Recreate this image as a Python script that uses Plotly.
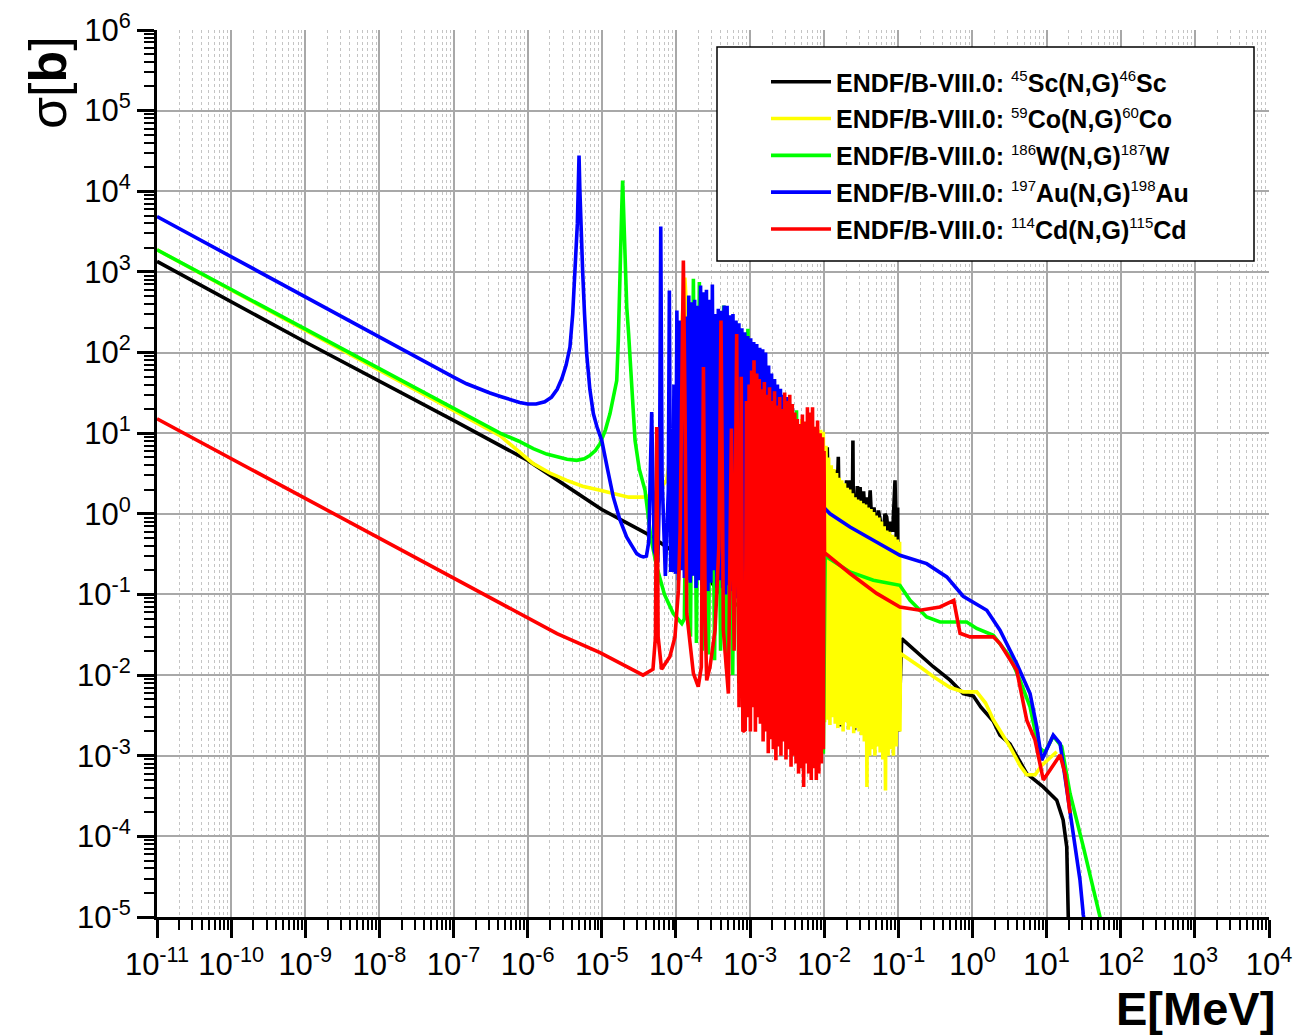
import plotly.graph_objects as go

# ---------------- data (E in MeV, sigma in barn) ----------------
# 45Sc(n,g)46Sc  (black)
sc_E = [1e-11, 1e-9, 1e-7, 4.24e-7, 1e-6, 1e-5, 4.04e-5, 1.02e-4, 2.0e-4, 4.4e-4, 1.0e-3, 2.0e-3,
        3.0e-3, 3.3e-3, 3.6e-3, 6.0e-3, 8.0e-3, 9.0e-3,
        1.05e-2, 1.1e-2, 1.16e-2, 1.25e-2, 1.33e-2, 1.39e-2, 1.46e-2, 1.55e-2, 1.6e-2, 1.63e-2,
        1.7e-2, 1.8e-2, 1.9e-2, 2.0e-2, 2.12e-2, 2.24e-2, 2.35e-2, 2.44e-2, 2.5e-2, 2.57e-2,
        2.65e-2, 2.8e-2, 2.95e-2, 3.05e-2, 3.2e-2, 3.4e-2, 3.6e-2, 3.8e-2, 4.0e-2, 4.17e-2,
        4.4e-2, 4.7e-2, 5.0e-2, 5.4e-2, 5.8e-2, 6.2e-2, 6.6e-2, 6.97e-2, 7.4e-2, 7.9e-2,
        8.4e-2, 9.02e-2, 9.4e-2, 9.8e-2, 0.101,
        0.111, 0.296, 0.498, 0.75, 1.03, 1.3, 1.9, 2.35, 3.2, 5.4, 9.0, 13.7, 16.7, 18.7, 19.6, 20.0]
sc_S = [1350, 135, 14.4, 7.1, 4.6, 1.13, 0.569, 0.321, 0.22, 0.093, 0.06, 0.045,
        0.04, 5.0, 0.03, 0.03, 1.0, 0.05,
        0.5, 6.7, 0.6, 2.0, 0.4, 3.46, 0.8, 5.1, 0.68, 2.3e-3,
        0.9, 2.2, 0.6, 2.6, 0.9, 2.6, 0.12, 8.1, 6.5e-3, 2.07e-3,
        1.0, 2.2, 1.2, 2.15, 1.0, 1.9, 0.8, 1.6, 1.0, 1.95,
        0.7, 1.2, 0.6, 1.1, 0.75, 0.5, 1.0, 0.91, 0.5, 0.8,
        0.6, 2.6, 0.5, 1.2, 2.0e-3,
        0.0284, 0.0127, 8.65e-3, 5.9e-3, 5.5e-3, 4.0e-3, 2.7e-3, 1.8e-3, 1.4e-3, 6.0e-4, 4.1e-4,
        2.8e-4, 1.6e-4, 7.4e-5, 1.0e-5, 1.0e-7]

# 59Co(n,g)60Co  (yellow)
co_E = [1e-11, 1e-9, 1e-7, 4.24e-7, 1.19e-6, 2.0e-6, 3.37e-6, 5.5e-6, 9.5e-6, 1.5e-5, 2.3e-5,
        3.6e-5, 4.7e-5, 6.0e-5, 7.5e-5, 9.2e-5, 1.1e-4, 1.25e-4, 1.32e-4, 1.4e-4, 1.55e-4,
        1.8e-4, 2.3e-4, 3.37e-4, 5.0e-4, 8.0e-4, 1.2e-3, 1.5e-3, 1.7e-3, 2.5e-3, 2.9e-3, 3.2e-3,
        4.3e-3, 5.0e-3, 5.5e-3, 7.0e-3, 7.55e-3, 8.1e-3,
        8.6e-3, 8.96e-3, 9.34e-3, 9.73e-3, 1.014e-2, 1.057e-2, 1.1e-2, 1.147e-2, 1.195e-2, 1.245e-2,
        1.297e-2, 1.352e-2, 1.408e-2, 1.468e-2, 1.529e-2, 1.594e-2, 1.66e-2, 1.73e-2, 1.8e-2, 1.88e-2,
        1.96e-2, 2.04e-2, 2.12e-2, 2.21e-2, 2.3e-2, 2.4e-2, 2.5e-2, 2.61e-2, 2.72e-2, 2.83e-2,
        2.95e-2, 3.07e-2, 3.2e-2, 3.34e-2, 3.48e-2, 3.62e-2, 3.77e-2, 3.93e-2, 4.1e-2, 4.27e-2,
        4.45e-2, 4.63e-2, 4.83e-2, 5.03e-2, 5.24e-2, 5.46e-2, 5.69e-2, 5.93e-2, 6.18e-2, 6.44e-2,
        6.71e-2, 6.99e-2, 7.28e-2, 7.59e-2, 7.91e-2, 8.24e-2, 8.59e-2, 8.95e-2, 9.33e-2, 9.72e-2,
        0.1013, 0.104,
        0.105, 0.107, 0.2, 0.3, 0.5, 0.75, 1.14, 1.5, 1.91, 3.2, 4.4, 5.4, 7.0, 8.6, 13.7]
co_S = [1880, 190, 19.5, 9.3, 4.19, 3.2, 2.6, 2.2, 1.96, 1.75, 1.61,
        1.61, 1.7, 2.0, 2.6, 10, 60, 400, 850, 300, 20,
        2.0, 0.5, 0.2, 0.12, 0.08, 0.07, 3.0, 0.06, 0.05, 8.0, 0.05,
        0.04, 15, 0.04, 0.02, 12, 0.01,
        2.0e-3, 11, 1.5e-3, 10.4, 2.6e-3, 7, 2.8e-3, 5, 2.4e-3, 4,
        3.0e-3, 3.6, 2.5e-3, 3.2, 2.2e-3, 2.8, 2.4e-3, 2.6, 2.0e-3, 2.4,
        2.6e-3, 2.1, 2.1e-3, 2.0, 2.3e-3, 1.8, 1.9e-3, 1.6, 2.2e-3, 1.5,
        2.0e-3, 1.45, 1.8e-3, 1.35, 1.5e-3, 1.3, 4.1e-4, 1.2, 1.0e-3, 1.15,
        1.2e-3, 1.05, 1.0e-3, 0.95, 1.3e-3, 0.9, 1.1e-3, 0.8, 9.0e-4, 0.7,
        3.7e-4, 0.62, 1.0e-3, 0.6, 1.2e-3, 0.55, 1.0e-3, 0.52, 1.3e-3, 0.48,
        2.0e-3, 0.45,
        2.0e-3, 0.0185, 0.0125, 9.5e-3, 7.0e-3, 6.2e-3, 6.2e-3, 4.5e-3, 2.8e-3, 1.3e-3, 7.5e-4,
        5.8e-4, 5.8e-4, 7.6e-4, 1.12e-3]

# 186W(n,g)187W  (green)
w_E = [1e-11, 1e-9, 1e-7, 4.24e-7, 7.5e-7, 1.19e-6, 1.8e-6, 2.47e-6, 3.4e-6, 4.59e-6, 5.8e-6,
       6.93e-6, 8.2e-6, 9.46e-6, 1.12e-5, 1.29e-5, 1.45e-5, 1.59e-5, 1.67e-5, 1.76e-5, 1.86e-5,
       1.91e-5, 1.96e-5, 2.03e-5, 2.1e-5, 2.17e-5, 2.3e-5, 2.41e-5, 2.6e-5, 2.81e-5, 3.2e-5,
       3.83e-5, 4.6e-5, 5.51e-5, 7.0e-5, 9.2e-5, 1.2e-4,
       1.3e-4, 1.43e-4, 1.57e-4, 1.72e-4, 1.89e-4, 2.07e-4, 2.28e-4, 2.5e-4, 2.75e-4, 3.02e-4,
       3.32e-4, 3.65e-4, 4.0e-4, 4.4e-4, 4.83e-4, 5.3e-4, 5.83e-4, 6.4e-4, 7.05e-4, 7.75e-4,
       8.5e-4, 9.35e-4, 1.03e-3, 1.13e-3, 1.24e-3, 1.36e-3, 1.5e-3, 1.65e-3, 1.81e-3, 1.99e-3,
       2.19e-3, 2.4e-3, 2.64e-3, 2.9e-3, 3.19e-3, 3.5e-3, 3.85e-3, 4.23e-3, 4.65e-3, 5.1e-3,
       5.6e-3, 6.15e-3, 6.75e-3, 7.4e-3, 8.1e-3, 8.9e-3, 9.75e-3,
       1.03e-2, 0.0223, 0.046, 0.105, 0.144, 0.241, 0.365, 0.837, 1.14, 1.91, 3.21, 4.39, 5.98,
       7.74, 9.5, 12.3, 16.0, 20.7, 31.3, 52.6, 60.0]
w_S = [1880, 197, 20.1, 10.0, 8.0, 6.43, 5.5, 5.06, 4.75, 4.6, 4.8,
       5.3, 6.1, 7.4, 11, 17.5, 28, 45, 141, 1520, 6300,
       13600, 6000, 2000, 800, 366, 170, 87.7, 25, 8.1, 3.6,
       1.96, 0.5, 0.22, 0.1, 0.058, 0.0436,
       0.05, 150, 0.03, 820, 0.025, 747, 0.02, 250, 0.018, 420,
       0.0153, 200, 0.02, 384, 0.012, 150, 0.01, 240, 8e-3, 100,
       6e-3, 197, 5e-3, 90, 4e-3, 110, 3.5e-3, 60, 3e-3, 47,
       2.5e-3, 35, 2.5e-3, 26.7, 2e-3, 22, 2e-3, 19.2, 1.8e-3, 13.1,
       1.5e-3, 11, 1.3e-3, 9, 1.1e-3, 8.15, 1.06e-3,
       0.3, 0.19, 0.15, 0.13, 0.0845, 0.0526, 0.0456, 0.0456, 0.0378, 0.0312, 0.0168, 8.6e-3, 4.04e-3,
       1.29e-3, 1.1e-3, 1.75e-3, 1.3e-3, 3.4e-4, 7.4e-5, 1.06e-5, 6.0e-6]

# 197Au(n,g)198Au  (blue)
au_E = [1e-11, 1e-9, 3e-8, 1e-7, 1.5e-7, 2.2e-7, 3.1e-7, 4.3e-7, 5.8e-7, 7.8e-7, 1.0e-6,
        1.3e-6, 1.7e-6, 2.1e-6, 2.5e-6, 2.9e-6, 3.3e-6, 3.72e-6, 4.05e-6, 4.36e-6, 4.55e-6,
        4.68e-6, 4.8e-6, 4.93e-6, 5.05e-6, 5.2e-6, 5.35e-6, 5.52e-6, 5.85e-6, 6.25e-6, 6.9e-6,
        7.69e-6, 8.6e-6, 1.0e-5, 1.2e-5, 1.43e-5, 1.75e-5, 2.16e-5, 2.55e-5, 2.96e-5, 3.3e-5,
        3.63e-5, 4.0e-5, 4.3e-5, 4.71e-5, 5.1e-5, 5.7e-5, 6.0e-5, 6.24e-5, 6.5e-5, 7.2e-5,
        7.9e-5, 8.15e-5, 8.5e-5,
        9.0e-5, 9.4e-5, 9.85e-5, 1.03e-4, 1.08e-4, 1.13e-4, 1.18e-4, 1.24e-4, 1.3e-4, 1.36e-4,
        1.42e-4, 1.49e-4, 1.56e-4, 1.63e-4, 1.71e-4, 1.79e-4, 1.87e-4, 1.96e-4, 2.05e-4, 2.15e-4,
        2.25e-4, 2.35e-4, 2.46e-4, 2.58e-4, 2.7e-4, 2.83e-4, 2.96e-4, 3.1e-4, 3.25e-4, 3.4e-4,
        3.56e-4, 3.73e-4, 3.9e-4, 4.08e-4, 4.27e-4, 4.47e-4, 4.68e-4, 4.9e-4, 5.13e-4, 5.37e-4,
        5.62e-4, 5.88e-4, 6.16e-4, 6.45e-4, 6.75e-4, 7.07e-4, 7.4e-4, 7.75e-4, 8.11e-4, 8.49e-4,
        8.89e-4, 9.31e-4, 9.75e-4, 1.02e-3, 1.07e-3, 1.12e-3, 1.17e-3, 1.23e-3, 1.29e-3, 1.35e-3,
        1.41e-3, 1.48e-3, 1.55e-3, 1.62e-3, 1.7e-3, 1.78e-3, 1.86e-3, 1.95e-3, 2.04e-3, 2.14e-3,
        2.24e-3, 2.34e-3, 2.45e-3, 2.57e-3, 2.69e-3, 2.82e-3, 2.95e-3, 3.09e-3, 3.24e-3, 3.39e-3,
        3.55e-3, 3.72e-3,
        4.0e-3, 6.0e-3, 8.8e-3, 0.012, 0.0223, 0.046, 0.105, 0.241, 0.45, 0.75, 0.93, 1.56, 2.35,
        3.95, 5.98, 7.37, 8.6, 12.3, 15.2, 20.7, 28.2, 31.3, 35.0]
au_S = [4860, 486, 90, 49.5, 41, 35.5, 31.5, 28.5, 26, 24, 23,
        23, 24.5, 28, 35, 48, 70, 117, 300, 946, 2000,
        3940, 10000, 27700, 11000, 4500, 2200, 1000, 300, 97, 35,
        17.5, 12, 8.1, 3.5, 1.61, 0.85, 0.516, 0.4, 0.321, 0.3,
        0.292, 0.3, 0.45, 18.3, 0.35, 0.25, 2.0, 3650, 3.0, 0.17,
        2.0, 589, 0.2,
        0.2, 40, 0.18, 333, 0.15, 250, 0.2, 300, 0.16, 280,
        0.15, 510, 0.14, 420, 0.17, 450, 0.12, 380, 0.15, 679,
        0.13, 560, 0.16, 600, 0.11, 450, 0.14, 697, 0.2, 300,
        0.12, 349, 0.15, 330, 0.12, 384, 0.1, 380, 0.13, 290,
        0.11, 300, 0.13, 250, 0.09, 230, 0.12, 200, 0.1, 179,
        0.11, 160, 0.08, 150, 0.1, 135, 0.09, 128, 0.08, 115,
        0.09, 110, 0.07, 100, 0.08, 69, 0.07, 55, 0.06, 47,
        0.07, 40, 0.06, 35.6, 0.06, 30, 0.05, 28, 0.05, 24,
        0.05, 20,
        2.5, 1.8, 1.34, 1.0, 0.687, 0.47, 0.306, 0.241, 0.165, 0.095, 0.0845, 0.0637, 0.036,
        0.0139, 5.9e-3, 2.28e-3, 8.8e-4, 1.8e-3, 1.42e-3, 1.93e-4, 2.88e-5, 1.06e-5, 5e-6]

# 114Cd(n,g)115Cd  (red)
cd_E = [1e-11, 1e-9, 1e-7, 4.24e-7, 2.49e-6, 9.46e-6, 3.6e-5, 4.9e-5, 5.3e-5, 5.51e-5,
        5.75e-5, 6.4e-5, 8.3e-5, 9.7e-5, 1.08e-4, 1.14e-4, 1.2e-4, 1.26e-4, 1.32e-4, 1.4e-4,
        1.72e-4, 2.0e-4, 2.2e-4, 2.35e-4, 2.48e-4, 2.6e-4, 2.88e-4, 3.37e-4, 3.8e-4, 4.05e-4,
        4.25e-4, 4.36e-4, 5.1e-4, 5.6e-4, 6.1e-4, 6.6e-4, 7.1e-4, 7.6e-4, 8.0e-4,
        8.6e-4, 8.95e-4, 9.3e-4, 9.7e-4, 1.01e-3, 1.05e-3, 1.09e-3, 1.13e-3, 1.18e-3, 1.23e-3,
        1.28e-3, 1.33e-3, 1.38e-3, 1.44e-3, 1.5e-3, 1.56e-3, 1.62e-3, 1.69e-3, 1.76e-3, 1.83e-3,
        1.9e-3, 1.98e-3, 2.06e-3, 2.14e-3, 2.23e-3, 2.32e-3, 2.41e-3, 2.51e-3, 2.61e-3, 2.71e-3,
        2.82e-3, 2.93e-3, 3.05e-3, 3.17e-3, 3.3e-3, 3.43e-3, 3.57e-3, 3.71e-3, 3.86e-3, 4.01e-3,
        4.17e-3, 4.34e-3, 4.51e-3, 4.69e-3, 4.88e-3, 5.08e-3, 5.28e-3, 5.49e-3, 5.71e-3, 5.94e-3,
        6.18e-3, 6.43e-3, 6.69e-3, 6.96e-3, 7.24e-3, 7.53e-3, 7.83e-3, 8.14e-3, 8.47e-3, 8.81e-3,
        9.16e-3, 9.53e-3, 9.75e-3, 9.95e-3,
        1.01e-2, 0.0223, 0.051, 0.105, 0.196, 0.365, 0.56, 0.6, 0.68, 0.927, 1.91, 2.35, 3.95,
        5.4, 6.98, 9.04, 15.2, 17.7, 20.7]
cd_S = [15.1, 1.55, 0.157, 0.077, 0.0327, 0.019, 0.0100, 0.0118, 0.03, 11.9,
        0.03, 0.0118, 0.017, 0.0298, 0.113, 0.62, 20, 1380, 30, 0.058,
        0.0105, 7.2e-3, 0.0126, 66, 0.05, 8.6e-3, 0.0126, 0.036, 0.4, 250,
        1.5, 0.036, 5.9e-3, 11.4, 0.02, 170, 4e-3, 50, 2e-3,
        2.1e-3, 25, 3e-3, 40, 2e-3, 60, 4e-3, 80, 1.98e-3, 55,
        3e-3, 47, 2.5e-3, 35, 1.5e-3, 43, 2e-3, 30, 1.07e-3, 37,
        1.6e-3, 25, 1.2e-3, 33, 8.8e-4, 22, 1.3e-3, 28, 1.0e-3, 20,
        1.5e-3, 32, 9e-4, 25, 1.2e-3, 30, 7.3e-4, 23, 1.0e-3, 18,
        8e-4, 15, 6e-4, 13, 7e-4, 17, 4.1e-4, 14, 8e-4, 21,
        6e-4, 18, 5e-4, 21, 7e-4, 12, 5e-4, 14.4, 6e-4, 10,
        8e-4, 8.9, 1.2e-3, 6,
        0.33, 0.182, 0.103, 0.07, 0.0637, 0.07, 0.0845, 0.06, 0.033, 0.0298, 0.0298, 0.0246, 0.0115,
        2.76e-3, 1.56e-3, 5e-4, 1.02e-3, 6e-4, 1.93e-4]

# legend labels: (target, product, element symbol)
iso_a = ["45", "59", "186", "197", "114"]
iso_b = ["46", "60", "187", "198", "115"]
elements = ["Sc", "Co", "W", "Au", "Cd"]
series_colors = ["#000000", "#FFFF00", "#00FF00", "#0000FF", "#FF0000"]
series_data = [(sc_E, sc_S), (co_E, co_S), (w_E, w_S), (au_E, au_S), (cd_E, cd_S)]


def sup(t):
    return f"<sup><span style='font-size:15px'>{t}</span></sup>"


series_names = [f"<b>ENDF/B-VIII.0: </b>{sup(a)}<b>{el}(N,G)</b>{sup(b)}<b>{el}</b>"
                for a, b, el in zip(iso_a, iso_b, elements)]

x_exps = list(range(-11, 5))
y_exps = list(range(-5, 7))

# ---------------- figure ----------------
W, H = 1298, 1036
L, R, T, B = 157, 1269, 30, 917


def px(xp):
    return (xp - L) / (R - L)


def py(yp):
    return (B - yp) / (B - T)


fig = go.Figure()
for i, ((E, S), name, col) in enumerate(zip(series_data, series_names, series_colors)):
    assert len(E) == len(S), (i, len(E), len(S))
    fig.add_trace(go.Scatter(x=E, y=S, mode="lines", name=name, legendgroup=f"g{i}",
                             line=dict(color=col, width=3.6)))

tickfont = dict(family="Liberation Sans, Arial, sans-serif", size=31, color="black")
x_minor = [m * 10.0 ** e for e in range(-11, 4) for m in range(2, 10)]
y_minor = [m * 10.0 ** e for e in range(-5, 6) for m in range(2, 10)]

fig.update_xaxes(type="log", range=[-11, 4], tickmode="array", automargin=False,
                 tickvals=[10.0 ** e for e in x_exps],
                 ticktext=[f"10<sup>{e}</sup>" for e in x_exps],
                 ticks="outside", ticklen=18, tickwidth=3, tickcolor="black",
                 showline=True, linewidth=3, linecolor="black",
                 showgrid=True, gridcolor="#a8a8a8", gridwidth=1.5, zeroline=False,
                 tickfont=tickfont,
                 minor=dict(tickmode="array", tickvals=x_minor, ticks="outside", ticklen=10,
                            tickwidth=2, tickcolor="black", showgrid=True,
                            gridcolor="#c4c4c4", gridwidth=1, griddash="dot"))
fig.update_yaxes(type="log", range=[-5, 6], tickmode="array", automargin=False,
                 tickvals=[10.0 ** e for e in y_exps],
                 ticktext=[f"10<sup>{e}</sup>" for e in y_exps],
                 ticks="outside", ticklen=17, tickwidth=3, tickcolor="black",
                 showline=True, linewidth=3, linecolor="black",
                 showgrid=True, gridcolor="#a8a8a8", gridwidth=1.5, zeroline=False,
                 tickfont=tickfont,
                 minor=dict(tickmode="array", tickvals=y_minor, ticks="outside", ticklen=10,
                            tickwidth=2, tickcolor="black", showgrid=False))

fig.update_layout(
    width=W, height=H,
    margin=dict(l=L, r=W - R, t=T, b=H - B, pad=0, autoexpand=False),
    paper_bgcolor="white", plot_bgcolor="white",
    showlegend=True,
    legend=dict(x=px(766), y=py(59), xanchor="left", yanchor="top",
                bgcolor="rgba(0,0,0,0)", borderwidth=0,
                font=dict(family="Liberation Sans, Arial, sans-serif", size=25, color="black"),
                itemwidth=60, tracegroupgap=1.3, traceorder="grouped"),
    shapes=[dict(type="rect", xref="paper", yref="paper",
                 x0=px(717), x1=px(1254), y0=py(261), y1=py(47),
                 fillcolor="white", line=dict(color="black", width=1.5), layer="above")],
    annotations=[
        dict(text="σ[<b>b</b>]", xref="paper", yref="paper", x=px(48), y=py(83),
             xanchor="center", yanchor="middle", textangle=-90, showarrow=False,
             font=dict(family="Liberation Sans, Arial, sans-serif", size=52, color="black")),
        dict(text="<b>E[MeV]</b>", xref="paper", yref="paper", x=px(1277), y=py(1008),
             xanchor="right", yanchor="middle", showarrow=False,
             font=dict(family="Liberation Sans, Arial, sans-serif", size=47, color="black")),
    ],
)

fig.write_html("out.html", config={"displayModeBar": False},
               post_script="document.body.style.margin='0';document.body.style.overflow='hidden';")
